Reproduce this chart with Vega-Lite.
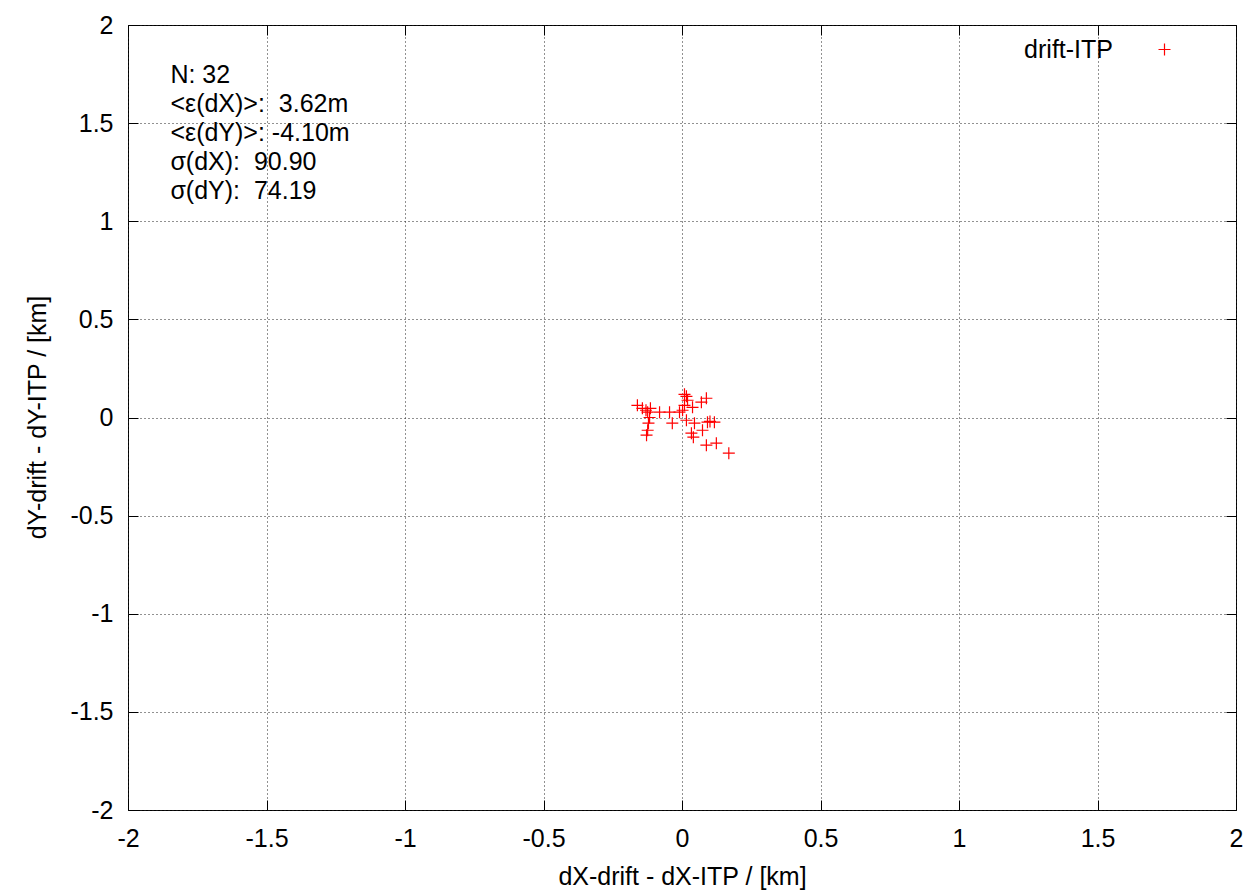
{
  "$schema": "https://vega.github.io/schema/vega-lite/v6.json",
  "width": 1108,
  "height": 785,
  "autosize": {"type": "none"},
  "padding": {"left": 128, "top": 25, "right": 14, "bottom": 82},
  "background": "white",
  "config": {
    "font": "Liberation Sans",
    "view": {"stroke": "black", "strokeWidth": 1},
    "axis": {
      "domain": false,
      "labelFont": "Liberation Sans",
      "labelFontSize": 25,
      "labelColor": "black",
      "titleFont": "Liberation Sans",
      "titleFontSize": 25,
      "titleFontWeight": "normal",
      "titleColor": "black",
      "tickColor": "black",
      "tickWidth": 1,
      "gridColor": "#222",
      "gridDash": [1, 3],
      "gridWidth": 1,
      "gridOpacity": 1
    }
  },
  "datasets": {
    "pts": [
      {"dx": -0.161, "dy": 0.062, "series": "drift-ITP"},
      {"dx": -0.143, "dy": 0.047, "series": "drift-ITP"},
      {"dx": -0.124, "dy": 0.027, "series": "drift-ITP"},
      {"dx": -0.114, "dy": 0.047, "series": "drift-ITP"},
      {"dx": -0.081, "dy": 0.027, "series": "drift-ITP"},
      {"dx": -0.045, "dy": 0.027, "series": "drift-ITP"},
      {"dx": -0.009, "dy": 0.027, "series": "drift-ITP"},
      {"dx": 0.009, "dy": 0.118, "series": "drift-ITP"},
      {"dx": 0.016, "dy": 0.108, "series": "drift-ITP"},
      {"dx": 0.020, "dy": 0.088, "series": "drift-ITP"},
      {"dx": 0.009, "dy": 0.062, "series": "drift-ITP"},
      {"dx": 0.002, "dy": 0.037, "series": "drift-ITP"},
      {"dx": 0.038, "dy": 0.052, "series": "drift-ITP"},
      {"dx": 0.070, "dy": 0.078, "series": "drift-ITP"},
      {"dx": 0.088, "dy": 0.098, "series": "drift-ITP"},
      {"dx": -0.121, "dy": -0.029, "series": "drift-ITP"},
      {"dx": -0.124, "dy": -0.065, "series": "drift-ITP"},
      {"dx": -0.128, "dy": -0.090, "series": "drift-ITP"},
      {"dx": -0.035, "dy": -0.029, "series": "drift-ITP"},
      {"dx": 0.016, "dy": -0.014, "series": "drift-ITP"},
      {"dx": 0.045, "dy": -0.029, "series": "drift-ITP"},
      {"dx": 0.092, "dy": -0.024, "series": "drift-ITP"},
      {"dx": 0.117, "dy": -0.024, "series": "drift-ITP"},
      {"dx": 0.074, "dy": -0.065, "series": "drift-ITP"},
      {"dx": 0.034, "dy": -0.080, "series": "drift-ITP"},
      {"dx": 0.041, "dy": -0.100, "series": "drift-ITP"},
      {"dx": 0.088, "dy": -0.141, "series": "drift-ITP"},
      {"dx": 0.124, "dy": -0.131, "series": "drift-ITP"},
      {"dx": 0.169, "dy": -0.182, "series": "drift-ITP"},
      {"dx": -0.117, "dy": 0.000, "series": "drift-ITP"},
      {"dx": 0.101, "dy": -0.020, "series": "drift-ITP"},
      {"dx": -0.130, "dy": 0.037, "series": "drift-ITP"}
    ]
  },
  "layer": [
    {
      "data": {"values": [{"note": ["N: 32", "<ε(dX)>: \u00a03.62m", "<ε(dY)>: -4.10m", "σ(dX): \u00a090.90", "σ(dY): \u00a074.19"]}]},
      "mark": {
        "type": "text",
        "align": "left",
        "baseline": "top",
        "font": "Liberation Sans",
        "fontSize": 25,
        "lineHeight": 29,
        "color": "black"
      },
      "encoding": {
        "text": {"field": "note"},
        "x": {
          "datum": -1.847,
          "type": "quantitative",
          "scale": {"domain": [-2, 2], "nice": false, "zero": false},
          "axis": {"orient": "top", "labels": false, "grid": false, "title": null, "values": [-2, -1.5, -1, -0.5, 0, 0.5, 1, 1.5, 2], "tickSize": -10}
        },
        "y": {
          "datum": 1.805,
          "type": "quantitative",
          "scale": {"domain": [-2, 2], "nice": false, "zero": false},
          "axis": {"orient": "right", "labels": false, "grid": false, "title": null, "values": [-2, -1.5, -1, -0.5, 0, 0.5, 1, 1.5, 2], "tickSize": -10}
        }
      }
    },
    {
      "data": {"name": "pts"},
      "mark": {
        "type": "point",
        "filled": false,
        "shape": "M-1,0L1,0M0,-1L0,1",
        "size": 144,
        "strokeWidth": 1.2,
        "opacity": 1
      },
      "encoding": {
        "x": {
          "field": "dx",
          "type": "quantitative",
          "scale": {"domain": [-2, 2], "nice": false, "zero": false},
          "axis": {
            "orient": "bottom",
            "title": "dX-drift - dX-ITP / [km]",
            "values": [-2, -1.5, -1, -0.5, 0, 0.5, 1, 1.5, 2],
            "labelExpr": "'' + datum.value",
            "grid": true,
            "tickSize": -10,
            "labelPadding": 26,
            "labelFlush": false,
            "titleBaseline": "middle",
            "titleX": 554,
            "titleY": 66
          }
        },
        "y": {
          "field": "dy",
          "type": "quantitative",
          "scale": {"domain": [-2, 2], "nice": false, "zero": false},
          "axis": {
            "orient": "left",
            "title": "dY-drift - dY-ITP / [km]",
            "values": [-2, -1.5, -1, -0.5, 0, 0.5, 1, 1.5, 2],
            "labelExpr": "'' + datum.value",
            "grid": true,
            "tickSize": -10,
            "labelPadding": 25,
            "labelFlush": false,
            "titleBaseline": "middle",
            "titleAngle": -90,
            "titleX": -91,
            "titleY": 392
          }
        },
        "color": {
          "field": "series",
          "type": "nominal",
          "scale": {"range": ["#ff0000"]},
          "legend": {
            "orient": "none",
            "legendX": 1024,
            "legendY": 12,
            "title": null,
            "padding": 0,
            "labelFont": "Liberation Sans",
            "labelFontSize": 25,
            "labelColor": "black",
            "labelAlign": "right",
            "labelOffset": -64,
            "symbolType": "M-1,0L1,0M0,-1L0,1",
            "symbolSize": 144,
            "symbolStrokeWidth": 1.2,
            "symbolStrokeColor": "#ff0000",
            "symbolOpacity": 1
          }
        }
      }
    }
  ],
  "resolve": {"axis": {"x": "independent", "y": "independent"}}
}
